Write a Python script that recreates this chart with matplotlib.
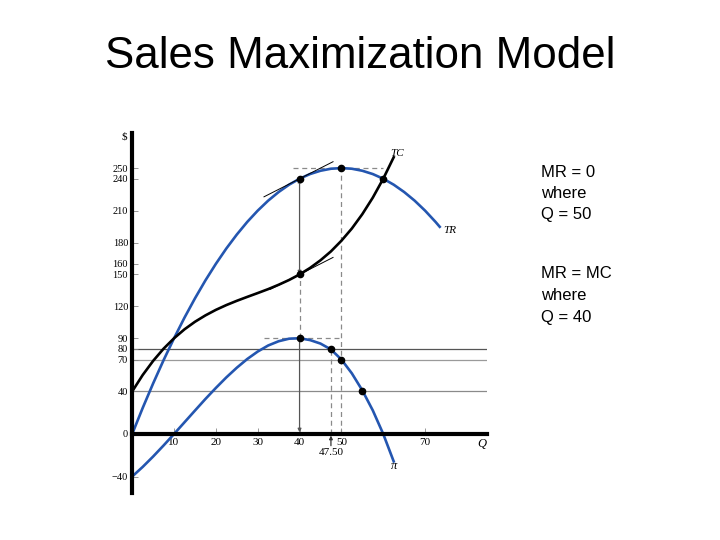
import matplotlib
matplotlib.use('Agg')
import matplotlib.pyplot as plt

# values
q_tr = [0, 2.5, 5, 7.5, 10, 12.5, 15, 17.5, 20, 22.5, 25, 27.5, 30, 32.5, 35, 37.5,
        40, 42.5, 45, 47.5, 50, 52.5, 55, 57.5, 60, 62.5, 65, 67.5, 70, 72.5, 73.5]
tr = [0, 24.4, 47.5, 69.4, 90, 109.4, 127.5, 144.4, 160, 174.4, 187.5, 199.4, 210, 219.4,
      227.5, 234.4, 240, 244.4, 247.5, 249.4, 250, 249.4, 247.5, 244.4, 240, 234.4, 227.5,
      219.4, 210, 199.4, 194.8]

q_tc = [0, 2.5, 5, 7.5, 10, 12.5, 15, 17.5, 20, 22.5, 25, 27.5, 30, 32.5, 35, 37.5,
        40, 42.5, 45, 47.5, 50, 52.5, 55, 57.5, 60, 62.5]
tc = [40, 55.4, 68.7, 80.2, 90, 98.4, 105.5, 111.5, 116.7, 121.2, 125.2, 128.9, 132.5,
      136.2, 140.3, 144.8, 150, 156.1, 163.3, 171.7, 181.7, 193.2, 206.7, 222.2, 240, 260.2]

q_pi = q_tc
profit = [-40, -31.0, -21.2, -10.8, 0, 11.0, 22.0, 32.9, 43.3, 53.2, 62.3, 70.5, 77.5,
          83.2, 87.2, 89.6, 90, 88.3, 85, 79.5, 70, 57, 41, 22.2, 0, -25.8]

dot_q = [40, 50, 60, 40, 40, 47.5, 50, 55]
dot_v = [240, 250, 240, 150, 90, 80, 70, 40]

tan_tr_q = [31.5, 48]
tan_tr = [223, 256]
tan_tc_q = [33, 48]
tan_tc = [136, 166]

y_ticks = [-40, 0, 40, 70, 80, 90, 120, 150, 160, 180, 210, 240, 250]
y_labels = ['\u221240', '0', '40', '70', '80', '90', '120', '150', '160', '180', '210', '240', '250']
x_ticks = [10, 20, 30, 40, 50, 70]

guide_levels = [80, 70, 40]
guide_colors = ['#555555', '#9a9a9a', '#8a8a8a']

notes = ['MR = 0', 'where', 'Q = 50', 'MR = MC', 'where', 'Q = 40']
note_baselines = [177, 198, 219, 278, 300, 322]

blue = '#2456b0'
serif = 'Liberation Serif'

fig = plt.figure(figsize=(7.2, 5.4), dpi=100)
fig.text(0.5, 1 - 68 / 540, 'Sales Maximization Model', ha='center', va='baseline',
         fontsize=31.6, family='Liberation Sans')

ax = fig.add_axes([132.2 / 720, 1 - 493 / 540, 354.8 / 720, 360 / 540])
ax.set_xlim(0, 84.8)
ax.set_ylim(-55.5, 283)

for s in ['top', 'right']:
    ax.spines[s].set_visible(False)
ax.spines['left'].set_linewidth(3)
ax.spines['bottom'].set_linewidth(3)
ax.spines['bottom'].set_position(('data', 0))
ax.spines['bottom'].set_zorder(6)
ax.spines['left'].set_zorder(6)

ax.set_yticks(y_ticks)
ax.set_yticklabels(y_labels, family=serif, fontsize=7.5)
ax.set_xticks(x_ticks)
ax.set_xticklabels([str(t) for t in x_ticks], family=serif, fontsize=8)
ax.tick_params(axis='y', direction='in', length=4, width=0.6, color='#888888', pad=3)
ax.tick_params(axis='x', direction='in', length=4, width=0.6, color='#888888', pad=3)

# guide lines
for lev, col in zip(guide_levels, guide_colors):
    ax.axhline(lev, color=col, lw=0.9, zorder=1)

dash = dict(color='#8a8a8a', lw=0.9, linestyles=(0, (4, 3)), zorder=1)
ax.hlines(250, 38.5, 60, **dash)
ax.hlines(90, 31.5, 50, **dash)
ax.vlines(50, 0, 250, **dash)
ax.vlines(47.5, 0, 80, **dash)
ax.vlines(40, 90, 150, **dash)

arrow = dict(arrowstyle='<|-|>', color='#555555', lw=0.9, mutation_scale=5,
             shrinkA=0, shrinkB=0)
ax.annotate('', xy=(40, 150), xytext=(40, 240), arrowprops=arrow)
ax.annotate('', xy=(40, 1.5), xytext=(40, 90),
            arrowprops=dict(arrowstyle='-|>', color='#555555', lw=0.9,
                            mutation_scale=5, shrinkA=0, shrinkB=0))
ax.annotate('', xy=(47.5, -1.5), xytext=(47.5, -11),
            arrowprops=dict(arrowstyle='-|>', color='#333333', lw=0.9,
                            mutation_scale=5, shrinkA=0, shrinkB=0))
ax.text(47.5, -13, '47.50', ha='center', va='top', family=serif, fontsize=8)

# curves
ax.plot(q_tr, tr, color=blue, lw=1.9, zorder=3)
ax.plot(q_pi, profit, color=blue, lw=1.9, zorder=3)
ax.plot(q_tc, tc, color='black', lw=1.9, zorder=3)
ax.plot(tan_tr_q, tan_tr, color='black', lw=0.7, zorder=3)
ax.plot(tan_tc_q, tan_tc, color='black', lw=0.7, zorder=3)
ax.plot(dot_q, dot_v, 'o', color='black', ms=4.5, zorder=5)

# labels
ax.text(63.4, 264, 'TC', style='italic', family=serif, fontsize=8, ha='center', va='center')
ax.text(75.8, 191, 'TR', style='italic', family=serif, fontsize=8, ha='center', va='center')
ax.text(62.6, -30, '\u03c0', style='italic', family=serif, fontsize=9, ha='center', va='center')
ax.text(83.6, -9, 'Q', style='italic', family=serif, fontsize=9, ha='center', va='center')
ax.text(-2.0, 279, '$', family=serif, fontsize=8, ha='center', va='center', clip_on=False)

for line, base in zip(notes, note_baselines):
    fig.text(541 / 720, 1 - base / 540, line, ha='left', va='baseline',
             fontsize=12, family='Liberation Sans')

fig.savefig('out.png', dpi=100, facecolor='white')
